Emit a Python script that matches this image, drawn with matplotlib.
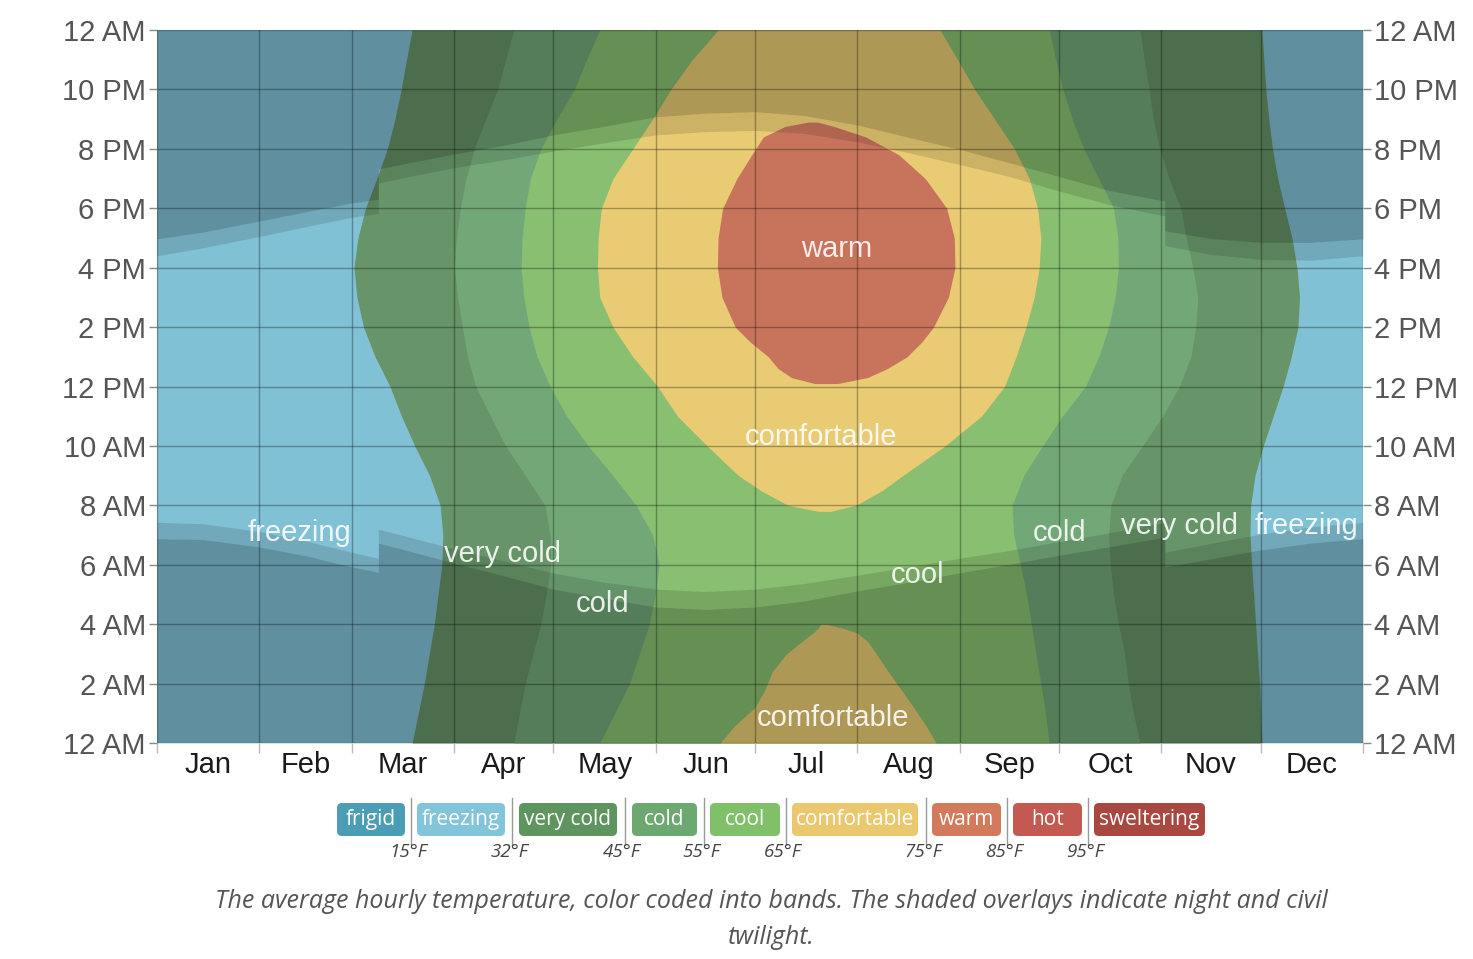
import matplotlib
matplotlib.use("Agg")
import matplotlib.pyplot as plt
from matplotlib.patches import FancyBboxPatch

# ---------------- data ----------------
months = ["Jan", "Feb", "Mar", "Apr", "May", "Jun", "Jul", "Aug", "Sep", "Oct", "Nov", "Dec"]
month_edges = [0, 31, 59, 90, 120, 151, 181, 212, 243, 273, 304, 334, 365]
hour_ticks = [0, 2, 4, 6, 8, 10, 12, 14, 16, 18, 20, 22, 24]
hour_labels = ["12 AM", "2 AM", "4 AM", "6 AM", "8 AM", "10 AM", "12 PM",
               "2 PM", "4 PM", "6 PM", "8 PM", "10 PM", "12 AM"]

# band boundaries: day of year where the threshold is crossed, per hour
# 32°F (freezing / very cold)
h32 = [0, 2, 4, 6, 7, 8, 9, 10, 11, 12, 13, 14, 15, 16, 17, 18, 19, 20, 21, 22, 23, 24]
l32 = [77.2, 80.9, 83.9, 86.2, 86.5, 85.7, 82.5, 78, 74, 70.5, 66, 62.5, 60.5, 59.6,
       60.8, 63.1, 66.5, 69.7, 72, 73.9, 75.5, 77.2]
r32 = [334.4, 333.7, 332.5, 331.3, 330.8, 331.0, 332.3, 334.8, 337.8, 340.8, 343.3,
       345.3, 345.8, 345.0, 343.5, 341.3, 339.2, 337.6, 336.5, 335.6, 335.0, 334.4]
# 45°F (very cold / cold)
h45 = [0, 1, 2, 3, 4, 5, 6, 7, 8, 9, 10, 11, 12, 13, 14, 15, 16, 17, 18, 19, 20, 21, 22, 23, 24]
l45 = [108, 109.7, 111.4, 113.8, 116.2, 117.8, 119.2, 119, 117.4, 111.5, 105.5, 101,
       96.5, 94, 92.4, 91, 90, 90.6, 91.8, 93.5, 96, 99.5, 103.1, 105.5, 108]
r45 = [297.5, 295.5, 294, 292.8, 291, 289.5, 288.5, 288, 288.7, 292, 298.3, 304.3,
       309.4, 312.9, 314.4, 315, 313.5, 311.5, 309.8, 306.3, 303.5, 301.5, 300.2, 298.8, 297.5]
# 55°F (cold / cool)
h55 = [0, 1, 2, 3, 4, 5, 6, 7, 8, 9, 10, 11, 12, 13, 14, 15, 16, 17, 18, 19, 20, 21, 22, 23, 24]
l55 = [134, 138.5, 143, 146, 149, 150.8, 152, 150, 145, 138, 130.5, 124, 119, 115,
       112.6, 111, 110.2, 110.5, 111.4, 113, 116.2, 121, 126.3, 130, 134]
r55 = [270, 268.9, 267.5, 266, 264.6, 263.2, 261.3, 259.3, 258.8, 262.3, 268, 274,
       281, 285, 288, 290, 291, 290.8, 289.5, 285, 280.5, 277, 274.2, 272, 270]
# 65°F (cool / comfortable), daytime part
h65 = [7.8, 8.0, 8.5, 9, 10, 11, 12, 13, 14, 15, 16, 17, 18, 19, 20, 21, 22, 23, 24]
l65 = [200, 191, 182.7, 176, 166.5, 157.5, 151.5, 144, 138, 134, 133.3, 133.5, 134.5,
       138, 144, 150, 155.5, 162, 169.8]
r65 = [204, 211.5, 219.5, 225.7, 238.5, 249.5, 256.5, 260, 263, 265.5, 267, 267.5,
       266.5, 264, 259.5, 253.5, 247.5, 242.3, 237]
# 65°F, night part (after midnight)
h65n = [0, 0.6, 1.2, 1.8, 2.4, 3.0, 3.4, 3.7, 3.85, 4.0]
l65n = [170.4, 175, 181, 184, 186.2, 190.5, 195, 198.5, 200, 201]
r65n = [235.8, 232.6, 229, 225.2, 221.3, 217.7, 215.2, 212, 208, 202.5]
# 75°F (comfortable / warm)
h75 = [12.1, 12.3, 12.6, 13.0, 13.5, 14.0, 15.0, 16.0, 17.0, 18.0, 19.0, 19.8, 20.4, 20.75, 20.9]
l75 = [199, 192, 188, 185, 179.5, 175, 171, 169.6, 169.8, 171.2, 175.5, 180, 183.5, 190, 197]
r75 = [206, 215, 221, 227, 231.5, 235, 239.5, 241.5, 241.3, 239, 232.5, 224.5, 214.5, 205, 200]

# sun (hours), with daylight-saving jumps on day 67 and day 305
sun_days = [0, 14, 31, 45, 59, 67, 67, 74, 90, 105, 120, 135, 151, 166, 181, 196,
            212, 227, 243, 258, 273, 288, 305, 305, 319, 334, 349, 365]
sunrise = [7.43, 7.38, 7.12, 6.80, 6.42, 6.22, 7.20, 7.00, 6.53, 6.13, 5.72, 5.42, 5.18, 5.10,
           5.18, 5.37, 5.65, 5.92, 6.22, 6.48, 6.78, 7.07, 7.42, 6.42, 6.72, 7.03, 7.27, 7.43]
dawn = [6.88, 6.85, 6.60, 6.30, 5.93, 5.75, 6.73, 6.53, 6.05, 5.63, 5.18, 4.88, 4.58, 4.50,
        4.58, 4.78, 5.12, 5.40, 5.73, 6.02, 6.32, 6.60, 6.93, 5.93, 6.20, 6.50, 6.73, 6.88]
sunset = [16.40, 16.67, 17.05, 17.38, 17.70, 17.83, 18.85, 19.02, 19.37, 19.63, 19.93, 20.20,
          20.47, 20.58, 20.62, 20.52, 20.23, 19.88, 19.47, 19.07, 18.58, 18.13, 17.74, 16.74,
          16.45, 16.28, 16.25, 16.40]
dusk = [16.97, 17.20, 17.57, 17.88, 18.18, 18.30, 19.32, 19.48, 19.83, 20.12, 20.47, 20.75,
        21.08, 21.20, 21.25, 21.12, 20.80, 20.40, 19.98, 19.53, 19.07, 18.60, 18.24, 17.24,
        16.98, 16.85, 16.85, 16.97]

# in-chart labels
lab_text = ["warm", "comfortable", "comfortable", "freezing", "very cold", "cold",
            "cool", "cold", "very cold", "freezing"]
lab_day = [205.8, 201, 204.6, 43, 104.7, 135, 230.3, 273.3, 309.6, 347.8]
lab_hour = [16.63, 10.3, 0.84, 7.07, 6.36, 4.68, 5.65, 7.07, 7.3, 7.3]

# legend
leg_names = ["frigid", "freezing", "very cold", "cold", "cool", "comfortable", "warm", "hot", "sweltering"]
leg_temps = ["15°F", "32°F", "45°F", "55°F", "65°F", "75°F", "85°F", "95°F"]

# ---------------- style ----------------
C_FREEZING = "#81C1D5"
C_VCOLD = "#679468"
C_COLD = "#72A878"
C_COOL = "#89BF70"
C_COMF = "#E9CB74"
C_WARM = "#C8745C"
leg_colors = ["#4B9DB6", "#82C4D9", "#5E955F", "#6EA871", "#80C068", "#EBC86E", "#D37A5C", "#C35A52", "#A94840"]

W, H = 1473, 959
fig = plt.figure(figsize=(W / 100, H / 100), dpi=100)
ax = fig.add_axes([157 / W, 216 / H, 1206 / W, 713 / H])

ax.axhspan(0, 24, color=C_FREEZING, lw=0, zorder=0.5)
ax.fill_betweenx(h32, l32, r32, color=C_VCOLD, lw=0, zorder=1)
ax.fill_betweenx(h45, l45, r45, color=C_COLD, lw=0, zorder=1.1)
ax.fill_betweenx(h55, l55, r55, color=C_COOL, lw=0, zorder=1.2)
ax.fill_betweenx(h65, l65, r65, color=C_COMF, lw=0, zorder=1.3)
ax.fill_betweenx(h65n, l65n, r65n, color=C_COMF, lw=0, zorder=1.3)
ax.fill_betweenx(h75, l75, r75, color=C_WARM, lw=0, zorder=1.4)

# night / twilight overlays
ax.fill_between(sun_days, 0, dawn, color="black", alpha=0.25, lw=0, zorder=1.6)
ax.fill_between(sun_days, dawn, sunrise, color="black", alpha=0.12, lw=0, zorder=1.6)
ax.fill_between(sun_days, sunset, dusk, color="black", alpha=0.12, lw=0, zorder=1.6)
ax.fill_between(sun_days, dusk, 24, color="black", alpha=0.25, lw=0, zorder=1.6)

ax.set_xlim(0, 365)
ax.set_ylim(0, 24)
for s in ax.spines.values():
    s.set_visible(False)

ax.set_axisbelow(False)
ax.set_yticks(hour_ticks)
ax.set_yticklabels(hour_labels)
ax.set_xticks(month_edges)
ax.set_xticklabels([""] * len(month_edges))
mids = [(month_edges[i] + month_edges[i + 1]) / 2 for i in range(12)]
ax.set_xticks(mids, minor=True)
ax.set_xticklabels(months, minor=True)
ax.grid(True, which="major", color="black", alpha=0.3, lw=1.0)
ax.tick_params(axis="y", which="major", direction="out", length=6, width=1,
               color="#888888", left=True, right=True, labelleft=True, labelright=True,
               labelsize=21, labelcolor="#555555", pad=2)
ax.tick_params(axis="x", which="major", direction="out", length=7, width=1, color="#bbbbbb")
ax.tick_params(axis="x", which="minor", length=0, labelsize=21, labelcolor="#1a1a1a", pad=6)
for t in ax.get_yticklabels() + ax.get_xticklabels(minor=True):
    t.set_fontfamily("Liberation Sans")

for txt, d, h in zip(lab_text, lab_day, lab_hour):
    ax.text(d, h, txt, ha="center", va="center", fontsize=21, color="white", alpha=0.88,
            family="Liberation Sans", zorder=4)

# ---------------- legend ----------------
boxes = [(337, 405), (417, 505), (519, 617), (632, 697), (710, 780), (792, 918),
         (932, 1001), (1013, 1082), (1094, 1205)]
seps = [411, 512, 625, 704, 786, 926, 1007, 1088]
ytop, ybot = 803, 836
for (x0, x1), name, col in zip(boxes, leg_names, leg_colors):
    p = FancyBboxPatch((x0 / 100, (H - ybot) / 100), (x1 - x0) / 100, (ybot - ytop) / 100,
                       boxstyle="round,pad=0,rounding_size=0.05", transform=fig.dpi_scale_trans,
                       facecolor=col, edgecolor="none")
    fig.patches.append(p)
    fig.text((x0 + x1) / 2 / W, 1 - (ytop + ybot) / 2 / H, name, ha="center", va="center",
             fontsize=15, color="white", family="Open Sans")
for sx, tl in zip(seps, leg_temps):
    fig.add_artist(plt.Line2D([sx / W, sx / W], [1 - 798 / H, 1 - 845 / H],
                              transform=fig.transFigure, color="#999999", lw=1))
    fig.text((sx - 3) / W, 1 - 852 / H, tl, ha="center", va="center", fontsize=13.5,
             color="#444444", style="italic", family="Open Sans")

fig.text(771 / W, 1 - 902 / H,
         "The average hourly temperature, color coded into bands. The shaded overlays indicate night and civil",
         ha="center", va="center", fontsize=18, color="#555555", style="italic", family="Open Sans")
fig.text(771 / W, 1 - 938 / H, "twilight.", ha="center", va="center", fontsize=18,
         color="#555555", style="italic", family="Open Sans")

fig.savefig("out.png", dpi=100, facecolor="white")
